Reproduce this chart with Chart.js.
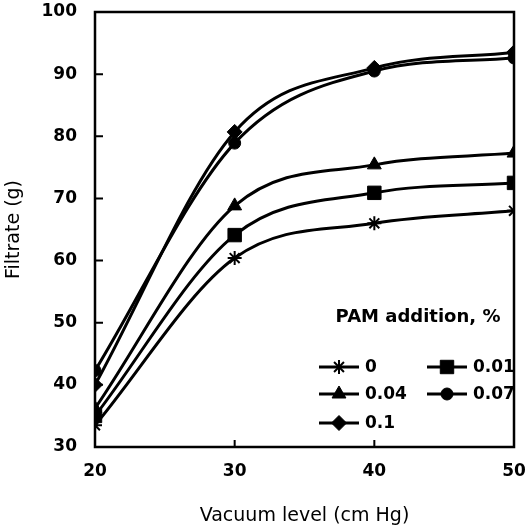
<!DOCTYPE html>
<html>
<head>
<meta charset="utf-8">
<script src="https://cdn.jsdelivr.net/npm/chart.js@4/dist/chart.umd.min.js"></script>
<style>
  html, body { margin: 0; padding: 0; background: #fff; }
</style>
</head>
<body>
<canvas id="myChart" width="530" height="530"></canvas>
<script>
// vacuum level (cm Hg) and filtrate (g) for each PAM dose
const vacuum = [20, 30, 40, 50];
const pam0 = [33.5, 60.4, 66.0, 68.0];
const pam001 = [35.0, 64.1, 70.9, 72.5];
const pam004 = [36.2, 68.8, 75.4, 77.3];
const pam007 = [42.3, 78.9, 90.5, 92.6];
const pam01 = [40.0, 80.7, 91.0, 93.5];
const seriesLabels = ['0', '0.01', '0.04', '0.07', '0.1'];
const xTicks = [20, 30, 40, 50];
const yTicks = [30, 40, 50, 60, 70, 80, 90, 100];

const tickFont = { family: 'DejaVu Sans', size: 17, weight: 'bold' };
const titleFont = { family: 'DejaVu Sans', size: 19, weight: 'normal' };

const toPoints = (ys) => vacuum.map((x, i) => ({ x: x, y: ys[i] }));

const makeSet = (label, ys, style, radius) => ({
  label: label,
  data: toPoints(ys),
  borderColor: '#000',
  backgroundColor: '#000',
  borderWidth: 3,
  cubicInterpolationMode: 'monotone',
  pointStyle: style,
  pointRadius: radius,
  pointBorderWidth: style === 'star' ? 2 : 1,
  pointBackgroundColor: '#000',
  pointBorderColor: '#000'
});

const datasets = [
  makeSet(seriesLabels[0], pam0, 'star', 7),
  makeSet(seriesLabels[1], pam001, 'rect', 9.5),
  makeSet(seriesLabels[2], pam004, 'triangle', 8),
  makeSet(seriesLabels[3], pam007, 'circle', 6),
  makeSet(seriesLabels[4], pam01, 'rectRot', 7.5)
];

// box around the plot + inward tick marks
const frame = {
  id: 'frame',
  afterDatasetsDraw(chart) {
    const c = chart.ctx;
    const a = chart.chartArea;
    const xs = chart.scales.x;
    const ys = chart.scales.y;
    c.save();
    c.strokeStyle = '#000';
    c.lineWidth = 2.5;
    c.strokeRect(a.left, a.top, a.right - a.left, a.bottom - a.top);
    c.lineWidth = 2;
    c.beginPath();
    yTicks.slice(1, -1).forEach(v => {
      const p = ys.getPixelForValue(v);
      c.moveTo(a.left, p);
      c.lineTo(a.left + 8, p);
    });
    xTicks.slice(1).forEach(v => {
      const p = xs.getPixelForValue(v);
      c.moveTo(p, a.bottom);
      c.lineTo(p, a.bottom - 7);
    });
    c.stroke();
    c.restore();
  }
};

// legend drawn inside the plot, two columns
const insideLegend = {
  id: 'insideLegend',
  afterDraw(chart) {
    const c = chart.ctx;
    const a = chart.chartArea;
    c.save();
    c.fillStyle = '#000';
    c.textBaseline = 'middle';
    c.textAlign = 'center';
    c.font = 'bold 18px "DejaVu Sans"';
    c.fillText('PAM addition, %', a.right - 96, a.bottom - 130);
    c.font = 'bold 17px "DejaVu Sans"';
    c.textAlign = 'left';
    const rows = [a.bottom - 80, a.bottom - 53, a.bottom - 24];
    const cols = [a.right - 175, a.right - 67];
    chart.data.datasets.forEach((ds, i) => {
      const mx = cols[i % 2];
      const my = rows[Math.floor(i / 2)];
      c.strokeStyle = '#000';
      c.lineWidth = 3;
      c.beginPath();
      c.moveTo(mx - 20, my);
      c.lineTo(mx + 20, my);
      c.stroke();
      c.lineWidth = ds.pointBorderWidth;
      Chart.helpers.drawPoint(c, {
        pointStyle: ds.pointStyle,
        radius: ds.pointRadius,
        borderWidth: ds.pointBorderWidth,
        rotation: 0
      }, mx, my);
      c.fillText(ds.label, mx + 26, my + 1);
    });
    c.restore();
  }
};

const ctx = document.getElementById('myChart').getContext('2d');
const myChart = new Chart(ctx, {
  type: 'line',
  data: { datasets: datasets },
  plugins: [frame, insideLegend],
  options: {
    responsive: false,
    animation: false,
    layout: { autoPadding: false, padding: { top: 12, right: 16, left: 0, bottom: 0 } },
    plugins: {
      legend: { display: false },
      tooltip: { enabled: false }
    },
    scales: {
      x: {
        type: 'linear',
        min: 20,
        max: 50,
        afterFit: (s) => { s.height = 83; s.paddingLeft = 0; s.paddingRight = 0; },
        afterBuildTicks: (s) => { s.ticks = xTicks.map(v => ({ value: v })); },
        grid: { display: false, drawTicks: false },
        border: { display: false },
        ticks: { color: '#000', font: tickFont, padding: 14 },
        title: {
          display: true,
          text: 'Vacuum level (cm Hg)',
          color: '#000',
          font: titleFont,
          padding: { top: 4, bottom: 3 }
        }
      },
      y: {
        min: 30,
        max: 100,
        afterFit: (s) => { s.width = 95; s.paddingTop = 0; s.paddingBottom = 0; },
        afterBuildTicks: (s) => { s.ticks = yTicks.map(v => ({ value: v })); },
        grid: { display: false, drawTicks: false },
        border: { display: false },
        ticks: { color: '#000', font: tickFont, padding: 18 },
        title: {
          display: true,
          text: 'Filtrate (g)',
          color: '#000',
          font: titleFont,
          padding: { top: 3, bottom: 3 }
        }
      }
    }
  }
});
</script>
</body>
</html>
